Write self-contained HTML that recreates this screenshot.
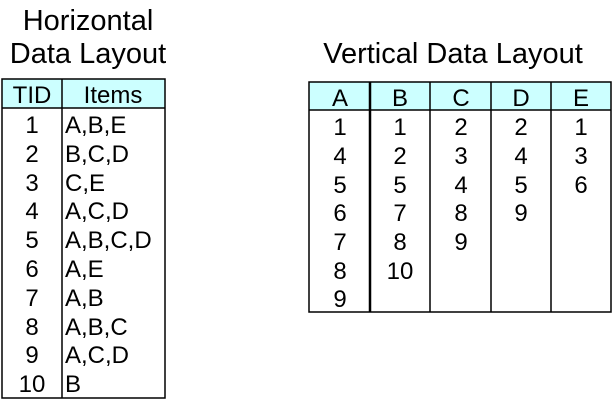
<!DOCTYPE html>
<html><head><style>body{margin:0;background:#fff}svg{display:block}text{font-family:"Liberation Sans",Arial,sans-serif;fill:#000}</style></head>
<body>
<svg width="616" height="401" viewBox="0 0 616 401">
<text x="88" y="30" font-size="29" text-anchor="middle">Horizontal</text>
<text x="88" y="63" font-size="29" text-anchor="middle">Data Layout</text>
<text x="453" y="63" font-size="29" text-anchor="middle">Vertical Data Layout</text>
<rect x="2" y="79" width="163" height="29" fill="#ccffff"/>
<rect x="2" y="79" width="163" height="319" fill="none" stroke="#000" stroke-width="1.5"/>
<line x1="2" y1="108" x2="165" y2="108" stroke="#000" stroke-width="1.5"/>
<line x1="62" y1="79" x2="62" y2="398" stroke="#000" stroke-width="1.5"/>
<g font-size="24">
<text x="32" y="103" text-anchor="middle">TID</text>
<text x="113" y="103" text-anchor="middle">Items</text>
<g text-anchor="middle">
<text x="32" y="133">1</text><text x="32" y="162">2</text><text x="32" y="191">3</text><text x="32" y="219">4</text><text x="32" y="248">5</text><text x="32" y="277">6</text><text x="32" y="306">7</text><text x="32" y="335">8</text><text x="32" y="363">9</text><text x="32" y="392">10</text>
</g>
<text x="65" y="133">A,B,E</text><text x="65" y="162">B,C,D</text><text x="65" y="191">C,E</text><text x="65" y="219">A,C,D</text><text x="65" y="248">A,B,C,D</text><text x="65" y="277">A,E</text><text x="65" y="306">A,B</text><text x="65" y="335">A,B,C</text><text x="65" y="363">A,C,D</text><text x="65" y="392">B</text>
</g>
<rect x="309" y="82" width="302" height="28" fill="#ccffff"/>
<rect x="309" y="82" width="302" height="230" fill="none" stroke="#000" stroke-width="1.5"/>
<line x1="309" y1="110" x2="611" y2="110" stroke="#000" stroke-width="1.5"/>
<line x1="370" y1="82" x2="370" y2="312" stroke="#000" stroke-width="2.5"/>
<line x1="430" y1="82" x2="430" y2="312" stroke="#000" stroke-width="1.5"/>
<line x1="491" y1="82" x2="491" y2="312" stroke="#000" stroke-width="1.5"/>
<line x1="551" y1="82" x2="551" y2="312" stroke="#000" stroke-width="1.5"/>
<g font-size="24" text-anchor="middle">
<text x="340" y="106">A</text><text x="400" y="106">B</text><text x="461" y="106">C</text><text x="521" y="106">D</text><text x="581" y="106">E</text>
<text x="340" y="135">1</text><text x="340" y="164">4</text><text x="340" y="193">5</text><text x="340" y="221">6</text><text x="340" y="250">7</text><text x="340" y="279">8</text><text x="340" y="307">9</text>
<text x="400" y="135">1</text><text x="400" y="164">2</text><text x="400" y="193">5</text><text x="400" y="221">7</text><text x="400" y="250">8</text><text x="400" y="279">10</text>
<text x="461" y="135">2</text><text x="461" y="164">3</text><text x="461" y="193">4</text><text x="461" y="221">8</text><text x="461" y="250">9</text>
<text x="521" y="135">2</text><text x="521" y="164">4</text><text x="521" y="193">5</text><text x="521" y="221">9</text>
<text x="581" y="135">1</text><text x="581" y="164">3</text><text x="581" y="193">6</text>
</g>
</svg>
</body></html>
